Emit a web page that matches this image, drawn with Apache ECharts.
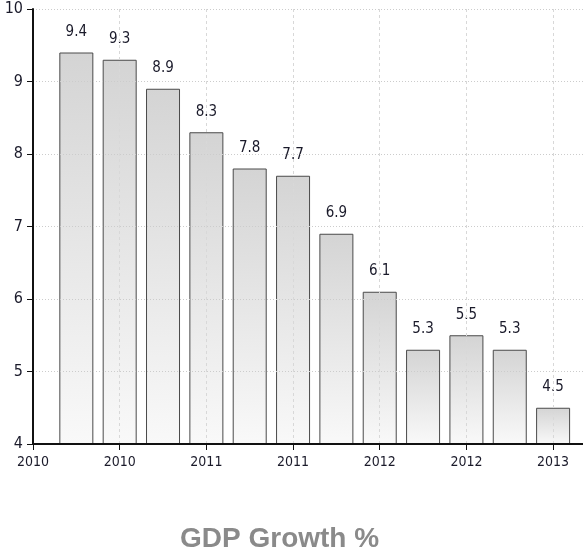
<!DOCTYPE html>
<html>
<head>
<meta charset="utf-8">
<script src="https://cdn.jsdelivr.net/npm/echarts@6/dist/echarts.min.js"></script>
<style>
  html, body { margin: 0; padding: 0; background: #fff; }
  #chart { width: 583px; height: 553px; }
</style>
</head>
<body>
<div id="chart"></div>
<script>
// Quarterly GDP growth, one bar per quarter
const quarterIndex = [1, 2, 3, 4, 5, 6, 7, 8, 9, 10, 11, 12];
const growthValues = [9.4, 9.3, 8.9, 8.3, 7.8, 7.7, 6.9, 6.1, 5.3, 5.5, 5.3, 4.5];
// Year labels shown every second quarter, starting at the axis origin
const tickLabels = ['2010', '2010', '2011', '2011', '2012', '2012', '2013'];

const narrow = '"DejaVu Sans Condensed", "Liberation Sans", sans-serif';

const chart = echarts.init(document.getElementById('chart'), null, { renderer: 'canvas' });

chart.setOption({
  animation: false,
  backgroundColor: '#ffffff',
  title: {
    text: 'GDP Growth %',
    left: 175,
    top: 520,
    textStyle: {
      fontFamily: '"Liberation Sans", Arial, sans-serif',
      fontSize: 28,
      fontWeight: 'bold',
      color: '#8a8a8a'
    }
  },
  grid: { left: 33, right: 0, top: 9, bottom: 109, containLabel: false },
  xAxis: {
    type: 'value',
    min: 0,
    max: 12.69,
    interval: 2,
    z: 5,
    axisLine: { show: true, onZero: false, lineStyle: { color: '#111', width: 2 } },
    axisTick: { show: true, length: 6, lineStyle: { color: '#111', width: 1 } },
    axisLabel: {
      margin: 11,
      fontFamily: narrow,
      fontSize: 14,
      color: '#1a1a2a',
      showMaxLabel: false,
      formatter: function (v) {
        if (Math.abs(v / 2 - Math.round(v / 2)) > 1e-6) return '';
        const i = Math.round(v / 2);
        return tickLabels[i] !== undefined ? tickLabels[i] : '';
      }
    },
    splitLine: { show: true, lineStyle: { color: '#d8d8d8', type: [3, 3], width: 1 } }
  },
  yAxis: {
    type: 'value',
    min: 4,
    max: 10,
    interval: 1,
    z: 5,
    axisLine: { show: true, lineStyle: { color: '#111', width: 2 } },
    axisTick: { show: true, length: 6, lineStyle: { color: '#111', width: 1 } },
    axisLabel: {
      margin: 10,
      fontFamily: narrow,
      fontSize: 16,
      color: '#1a1a2a'
    },
    splitLine: { show: true, lineStyle: { color: '#cccccc', type: [1, 2], width: 1 } }
  },
  series: [{
    type: 'bar',
    barWidth: 34,
    data: quarterIndex.map((q, i) => [q, growthValues[i]]),
    itemStyle: {
      color: new echarts.graphic.LinearGradient(0, 0, 0, 1, [
        { offset: 0, color: '#d4d4d4' },
        { offset: 1, color: '#f9f9f9' }
      ]),
      borderColor: '#4a4a4a',
      borderWidth: 1
    },
    label: {
      show: true,
      position: 'top',
      distance: 13,
      fontFamily: narrow,
      fontSize: 15,
      color: '#1a1a2a',
      formatter: p => p.value[1].toFixed(1)
    }
  }]
});
</script>
</body>
</html>
